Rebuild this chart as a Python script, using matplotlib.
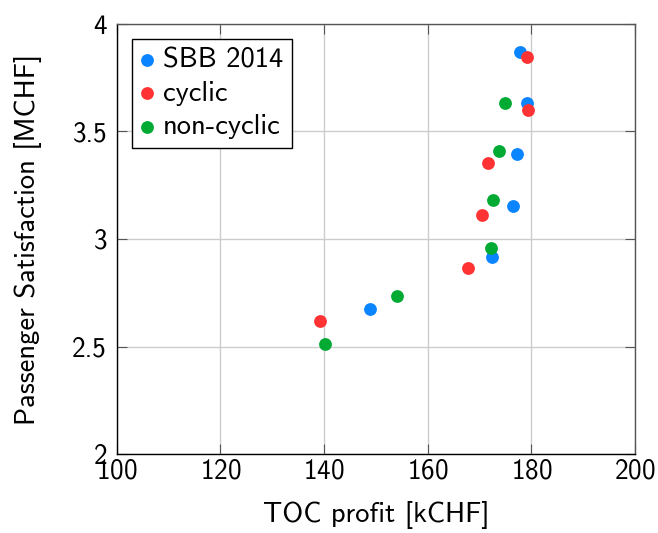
import matplotlib
matplotlib.use("Agg")
import matplotlib.pyplot as plt
from matplotlib.ticker import FuncFormatter

# values
sbb_profit = [177.9, 179.2, 177.3, 176.4, 172.5, 148.8]
sbb_satisf = [3.871, 3.634, 3.394, 3.155, 2.915, 2.676]

cyclic_profit = [179.1, 179.3, 171.6, 170.5, 167.8, 139.3]
cyclic_satisf = [3.845, 3.600, 3.355, 3.111, 2.866, 2.619]

noncyclic_profit = [174.9, 173.8, 172.6, 172.3, 154.1, 140.2]
noncyclic_satisf = [3.632, 3.408, 3.183, 2.958, 2.737, 2.510]

x_ticks = [100, 120, 140, 160, 180, 200]
y_ticks = [2, 2.5, 3, 3.5, 4]

plt.rcParams["font.family"] = ["cmss10", "DejaVu Sans"]
plt.rcParams["axes.formatter.use_mathtext"] = True
plt.rcParams["font.size"] = 19.5

fig = plt.figure(figsize=(6.58, 5.33), dpi=100)
ax = fig.add_axes([0.1774, 0.1482, 0.9650 - 0.1774, 0.955 - 0.1482])

ms = 85
ax.scatter(sbb_profit, sbb_satisf, s=ms, color="#0a84ff", label="SBB 2014", zorder=3, linewidths=0)
ax.scatter(cyclic_profit, cyclic_satisf, s=ms, color="#ff3333", label="cyclic", zorder=3, linewidths=0)
ax.scatter(noncyclic_profit, noncyclic_satisf, s=ms, color="#00aa33", label="non-cyclic", zorder=3, linewidths=0)

ax.set_xlim(100, 200)
ax.set_ylim(2, 4)
ax.set_xticks(x_ticks)
ax.set_yticks(y_ticks)
ax.yaxis.set_major_formatter(FuncFormatter(lambda v, p: f"{v:g}"))
ax.grid(True, color="#cccccc", linewidth=1.0, zorder=0)
ax.set_axisbelow(True)

ax.tick_params(direction="in", length=7, width=0.8, color="#555555",
               top=True, right=True, labelsize=19.5)
ax.tick_params(axis="x", pad=3)
ax.tick_params(axis="y", pad=7)

for side in ["left", "bottom"]:
    ax.spines[side].set_color("black")
for side in ["top", "right"]:
    ax.spines[side].set_color("#555555")
for sp in ax.spines.values():
    sp.set_linewidth(1.0)

ax.set_xlabel("TOC profit [kCHF]", fontsize=20.5, labelpad=13)
ax.set_ylabel("Passenger Satisfaction [MCHF]", fontsize=20.5, labelpad=22)

leg = ax.legend(loc="upper left", fontsize=20.5, handlelength=0.5, handletextpad=0.3,
                labelspacing=0.3, borderpad=0.3, borderaxespad=0.52,
                fancybox=False, framealpha=1, edgecolor="black", scatterpoints=1)
leg.get_frame().set_linewidth(1.0)

fig.savefig("out.png", dpi=100)
